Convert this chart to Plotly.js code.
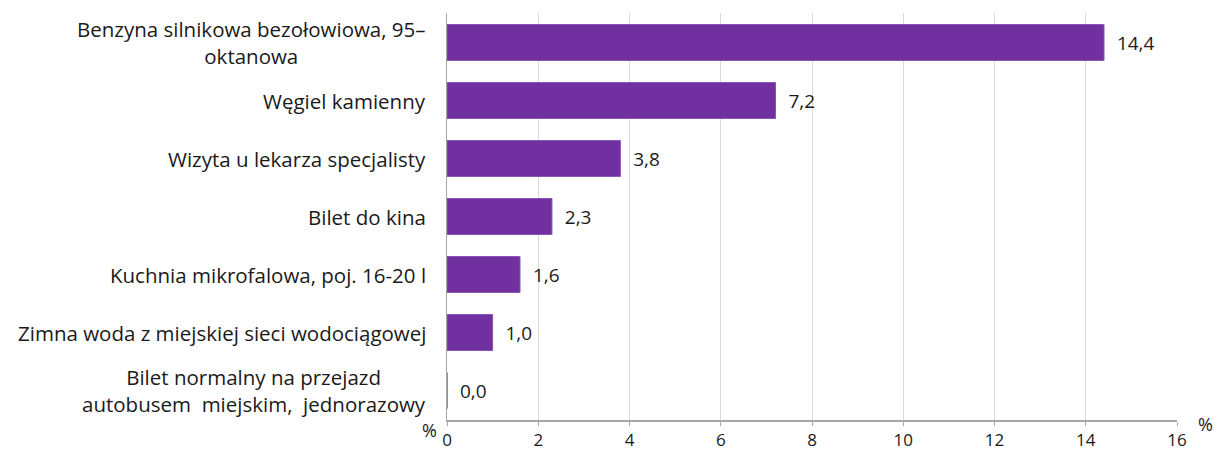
<!DOCTYPE html>
<html>
<head>
<meta charset="utf-8">
<script src="https://cdn.plot.ly/plotly-3.0.1.min.js"></script>
<style>html,body{margin:0;padding:0;background:#fff;}#chart{width:1215px;height:452px;}</style>
</head>
<body>
<div id="chart"></div>
<script>
var categories = [
  "Benzyna silnikowa bezołowiowa, 95–<br>oktanowa",
  "Węgiel kamienny",
  "Wizyta u lekarza specjalisty",
  "Bilet do kina",
  "Kuchnia mikrofalowa, poj. 16-20 l",
  "Zimna woda z miejskiej sieci wodociągowej",
  "Bilet normalny na przejazd<br>autobusem  miejskim,  jednorazowy"
];
var values = [14.4, 7.2, 3.8, 2.3, 1.6, 1.0, 0.0];
var tickVals = [0, 2, 4, 6, 8, 10, 12, 14, 16];
var unitLabel = "%";

var font = "'Open Sans', Roboto, sans-serif";
var fs = 20.5;
var texts = values.map(function(v){ return '\u00a0\u00a0' + v.toFixed(1).replace('.', ','); });

var trace = {
  type: 'bar',
  orientation: 'h',
  x: values,
  y: categories,
  text: texts,
  textposition: 'outside',
  cliponaxis: false,
  textfont: {family: font, size: 19, color: '#1a1a1a'},
  marker: {color: '#7030A0', line: {color: '#8a55b8', width: 1}},
  width: 0.62,
  hoverinfo: 'none'
};

var annotations = categories.map(function(c){
  return {
    x: 0, xref: 'paper', y: c, yref: 'y',
    text: c, showarrow: false, xanchor: 'right', align: 'center',
    xshift: -19, font: {family: font, size: fs, color: '#1a1a1a'}
  };
});
annotations.push({x: 0, xref: 'paper', y: 0, yref: 'paper', text: unitLabel, showarrow: false,
  xanchor: 'right', yanchor: 'top', xshift: -8, yshift: 4, font: {family: font, size: 18, color: '#1a1a1a'}});
annotations.push({x: 1, xref: 'paper', y: 0, yref: 'paper', text: unitLabel, showarrow: false,
  xanchor: 'left', yanchor: 'top', xshift: 19, yshift: 10, font: {family: font, size: 18, color: '#1a1a1a'}});

var layout = {
  width: 1215, height: 452,
  margin: {l: 447, r: 38, t: 13, b: 32},
  paper_bgcolor: '#ffffff', plot_bgcolor: '#ffffff',
  showlegend: false,
  xaxis: {
    range: [0, 16], tickvals: tickVals, ticktext: tickVals.map(String),
    showgrid: true, gridcolor: '#d9d9d9', gridwidth: 1,
    zeroline: false, showline: true, linecolor: '#a6a6a6', linewidth: 1.5,
    ticks: 'outside', ticklen: 4, tickcolor: '#a6a6a6',
    ticklabelstandoff: 0,
    tickfont: {family: font, size: 17, color: '#1a1a1a'}, fixedrange: true
  },
  yaxis: {
    autorange: 'reversed', showticklabels: false, showgrid: false,
    showline: true, linecolor: '#a6a6a6', linewidth: 1, ticks: '', zeroline: false,
    fixedrange: true
  },
  annotations: annotations
};

Plotly.newPlot('chart', [trace], layout, {displayModeBar: false, staticPlot: true});
</script>
</body>
</html>
